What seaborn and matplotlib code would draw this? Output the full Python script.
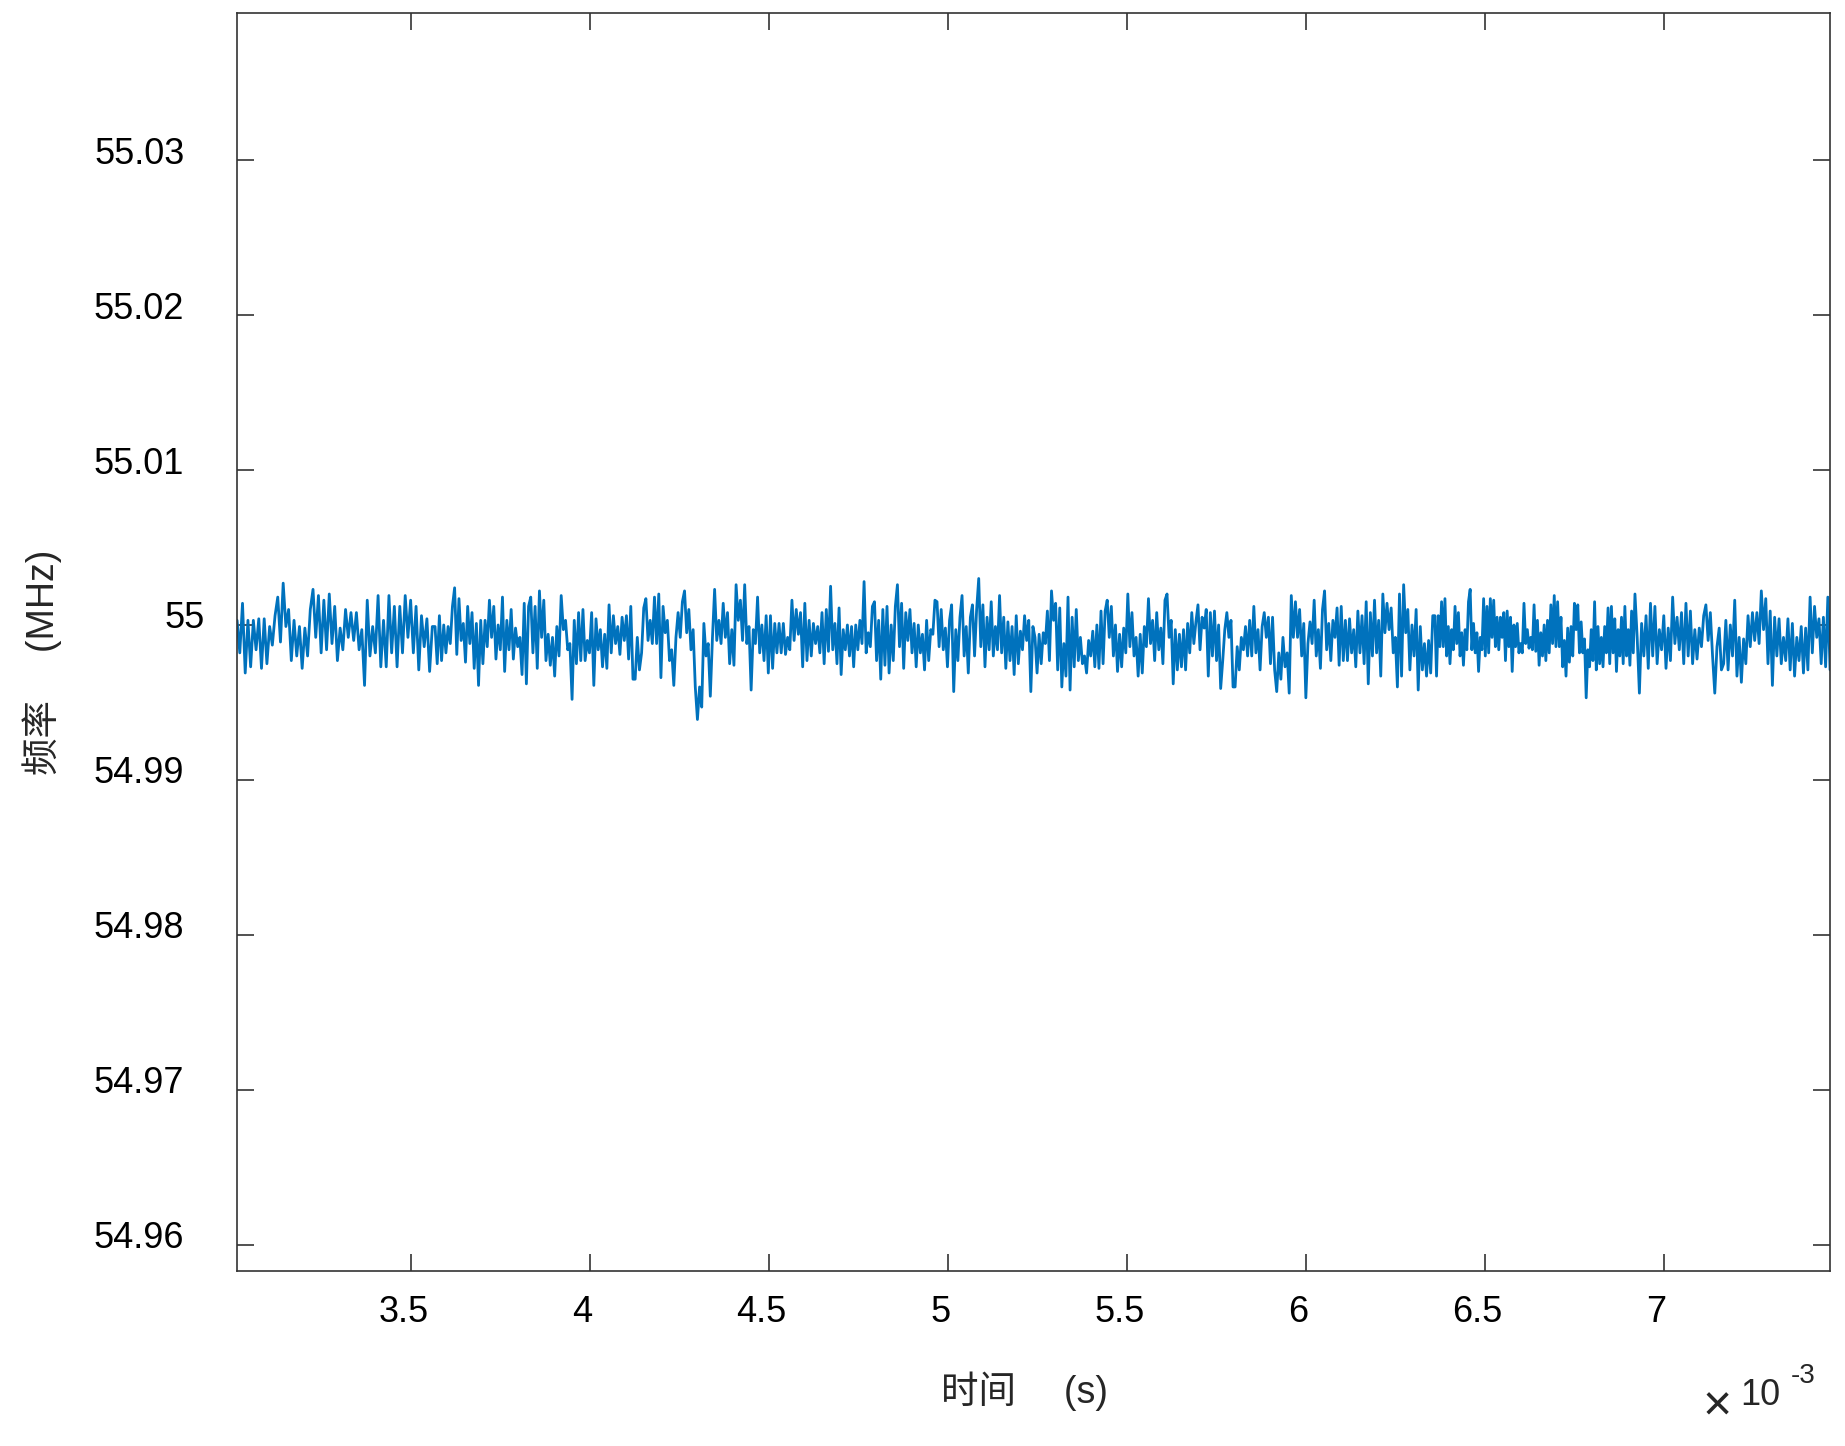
import numpy as np
import pandas as pd
import seaborn as sns
import matplotlib
matplotlib.use('Agg')
import matplotlib.pyplot as plt
from matplotlib.ticker import FixedLocator, FuncFormatter
from matplotlib.transforms import ScaledTranslation

# frequency trace, read off the picture as deviation from 55 MHz (kHz),
# one list per stretch of the time axis
seg_edges_ms = [3.013, 3.566, 4.125, 4.683, 5.242, 5.801, 6.359, 6.918, 7.463]

seg1 = [0.3, -1.8, 1.4, -3.1, 0.3, -2.7, 0.3, -1.6, 0.4, -2.8, 0.4, -2.5, -0.1, -1.3, 0.6, 1.8,
        -1.1, 2.7, -0.1, 1.0, -2.3, 0.3, -2.0, -0.1, -2.8, -0.2, -2.0, 1.0, 2.3, -0.8, 1.9, -1.8,
        1.6, -1.6, 2.0, -1.2, 1.2, -2.3, -0.2, -1.6, 1.0, -0.8, 0.8, -1.0, 0.8, -1.6, -0.3, -3.9,
        1.6, -2.0, -0.1, -1.8, 1.9, -2.7, 0.3, -2.7, 1.9, -1.8, 1.2, -2.7, 1.2, -1.8, 1.9, -0.8,
        1.6, -1.8, 1.2, -2.9, 0.6, -1.4, 0.4, -3.0, -0.1]
seg2 = [-0.1, -2.5, 0.6, -2.3, 0.0, -1.8, -0.1, -1.2, 1.2, 2.4, -1.9, 1.7, -1.0, 0.1, -2.4, 1.2,
        -1.2, 0.8, -2.8, 0.1, -3.9, 0.3, -2.5, 0.3, -1.4, 1.6, -0.8, 1.2, -2.2, 0.0, -1.6, 1.8,
        -3.0, 0.3, -1.6, 1.0, -2.2, -0.2, -1.4, -0.8, -3.2, 1.4, -3.8, 1.2, 1.8, -1.8, 1.2, -2.8,
        2.2, -0.8, 1.6, -2.3, -0.6, -2.6, -0.8, -3.3, -0.1, -2.0, 1.9, -0.3, 0.3, -1.6, -1.2, -4.8,
        0.3, -2.5, 0.8, -2.3, 1.0, -2.3, -1.0, -1.8, 0.8, -3.9, 0.4, -1.6, -0.3, -2.7, -0.6, -2.8,
        1.3, -1.8, 0.6, -1.2, -0.1, -1.9, 0.5, -1.0, 0.6, -2.2, 1.2, -3.5]
seg3 = [-3.5, -0.8, -2.9, -1.8, 1.1, 1.7, -1.0, 0.3, -1.2, 1.8, -1.2, 2.0, -3.4, 1.2, -0.5, 0.3,
        -2.3, -1.6, -3.9, -0.8, 0.8, -0.8, 1.5, 2.2, -0.5, 1.0, -1.6, -0.3, -4.0, -6.1, -4.0, -5.3,
        0.1, -2.0, -1.2, -4.6, -0.8, 2.3, -1.0, 0.3, -1.2, 1.4, -0.8, 0.8, -2.5, -0.3, -2.6, 2.6,
        0.3, 1.6, -1.0, 2.6, -1.2, -0.1, -4.2, -0.3, -1.2, 1.8, -1.8, 0.0, -2.3, 0.6, -3.1, 0.6,
        -2.8, 0.1, -1.8, 0.1, -1.8, 0.1, -1.9, -0.8, -1.6, 1.6, -1.0, 1.0, -0.6, 0.8, -2.7, 1.4,
        -2.3, 0.3, -2.0, 0.1, -1.2, -0.1, -1.8, 0.8, -2.5, 1.0, -1.7, 2.5, -1.6]
seg4 = [0.1, -2.5, 1.1, -3.2, -0.3, -1.6, 0.0, -2.0, -0.1, -2.7, 0.0, -1.6, 0.3, -1.2, 2.8, -1.8,
        -0.5, -1.4, 1.2, 1.5, -2.3, 0.3, -3.5, 1.0, -2.6, 1.2, -3.1, 0.0, -2.3, 1.2, 2.6, -1.4,
        1.4, -2.8, 0.8, -1.0, 1.0, -1.8, 0.1, -2.7, 0.0, -1.8, -0.6, -2.9, 0.3, -2.3, -0.3, -0.6,
        1.6, 1.5, -1.4, 1.0, -1.6, -0.2, -2.7, 0.3, 1.3, -4.3, -0.3, -2.3, 0.5, 1.9, -2.0, -0.1,
        -3.1, 0.5, 1.3, -2.0, 1.0, 3.0, -1.4, 1.3, -2.7, 0.5, -1.6, 1.5, -2.0, -0.1, -1.6, 1.9,
        -1.8, 0.5, -2.8, 0.2, -2.3, -0.1, -3.2, 0.6, -2.5, -0.4, -1.6, 0.6, -1.0, 0.3, -4.3, -0.1]
seg5 = [-0.8, -3.1, -0.6, -2.5, -0.5, -1.2, 0.9, -2.3, 2.2, 0.3, 1.4, -2.9, 1.1, -4.0, -1.2, -3.3,
        1.8, -4.2, 0.5, -2.7, 1.0, -2.3, -0.8, -2.5, -2.0, -3.1, -1.0, -2.0, -0.4, -2.7, 0.0, -2.8,
        0.9, -2.5, 0.9, 1.6, -0.8, 1.2, -2.0, 0.0, -3.0, -0.6, -2.7, -0.2, -1.8, 2.0, -1.4, 0.8,
        -2.0, -0.8, -3.3, -0.6, -3.1, -0.1, -1.4, 1.7, -1.2, 0.3, -2.3, 0.8, -1.6, -0.2, -2.5, 1.6,
        2.0, -0.8, 0.3, -3.8, -0.3, -2.9, -0.6, -2.7, -0.3, -2.9, 0.1, -1.8, 0.8, -1.2, 0.2, 1.3,
        -1.6, 0.5, -0.2, 1.0, -3.3, 0.8, -2.0, 0.9, -2.3, 0.0, -4.1, -2.3, -0.3, 0.8, -0.8, 0.3, -4.0]
seg6 = [-4.0, -1.4, -2.9, -0.8, -1.6, -0.1, -2.0, 0.3, -2.0, 1.2, -1.8, -0.3, -2.9, -0.1, 0.8, -0.8,
        0.5, -2.5, 0.5, -2.9, -4.3, -1.8, -3.5, -0.8, -2.7, -1.8, -4.4, 1.9, -0.8, 1.5, -0.8, 1.0,
        -2.0, 0.1, -4.7, -1.2, 0.2, -1.2, 1.6, -2.0, -0.3, -2.8, 1.0, 2.2, -1.6, 0.1, -2.3, 0.3,
        -0.8, 1.1, -2.6, 1.2, -2.3, 0.3, -2.3, 0.4, -1.8, -0.3, -2.7, 0.9, -1.8, 0.6, -2.5, 1.5,
        -3.8, 0.8, -2.0, 1.6, -1.8, 0.3, -3.3, 2.0, -0.5, 1.4, -0.3, 1.1, -1.8, -0.8, -4.0, 2.0,
        -3.3, 2.6, -0.5, 1.0, -2.9, 0.0, -2.0, 1.0, -4.2, -0.1, -2.9, -1.2, -3.3, -1.0, -3.1, 0.6]
seg7 = [0.6, -3.3, 0.6, -1.4, 1.5, -1.4, 1.7, -2.0, -0.1, -2.5, -0.3, -1.6, 1.2, -1.2, 0.8, -2.0,
        -0.5, -2.6, -0.3, -1.6, 1.5, 2.3, -1.6, 0.1, -1.8, -0.5, -3.0, -0.8, -1.6, 1.7, -2.0, 1.2,
        -1.8, 1.7, -0.8, 1.6, -1.4, 0.5, -1.6, 0.5, -0.8, 0.8, -2.3, 0.9, -1.4, 0.5, -3.0, 0.0,
        -1.4, 0.1, -1.8, -1.2, -1.8, 1.4, -1.2, -0.3, -1.5, -0.8, -1.6, 1.3, -1.7, 0.3, -2.6, -0.5,
        -2.0, 0.0, -2.3, 0.3, -1.8, 1.3, -1.2, 1.9, -1.4, 1.5, -1.4, 0.5, -2.7, -1.0, -3.3, -0.2,
        -2.4, -0.1, -2.0, 1.4, -0.3, 1.3, -1.8, 0.2, -1.8, -0.9, -4.7, -1.6, -2.7, -0.3, -2.3, 1.5,
        -2.9, -0.1, -2.5, -0.8, -2.7, -0.1, -1.8, 1.1, -2.5, 1.2, -1.8, 0.4, -3.0, -0.3, -2.0, 0.5,
        -2.5, 1.2, -2.0, -0.3, -2.6, 0.9, -1.8]
seg8 = [2.0, -0.8, -4.4, 0.1, -2.0, 0.6, -2.8, 1.4, -2.0, 1.2, -2.5, -0.3, -1.6, 0.6, -2.8, -0.2,
        -2.3, 1.8, -1.2, 0.5, -1.6, 0.8, -2.5, 1.4, -2.0, 0.9, -2.5, -0.3, -2.2, -0.2, -1.4, 0.6,
        1.3, -1.0, 0.8, -2.0, -4.4, -1.4, -0.2, -2.9, -2.5, 0.3, -2.9, 0.0, -2.0, 1.6, -3.3, -0.8,
        -3.7, -0.9, -2.5, 0.6, -1.4, 0.8, -1.0, 0.8, -1.2, 2.2, -0.3, 1.7, -2.5, 0.9, -3.9, 0.5,
        -2.0, 0.4, -2.5, -0.8, -2.3, 0.4, -2.9, 0.1, -3.3, -0.8, -2.3, -0.1, -3.1, -0.2, -2.9, 1.8,
        -1.8, 1.2, -0.8, 0.4, -2.5, 0.5, -2.7, 1.8, -2.9]

segments = [seg1, seg2, seg3, seg4, seg5, seg6, seg7, seg8]

ytick_vals = [54.96, 54.97, 54.98, 54.99, 55.0, 55.01, 55.02, 55.03]
xtick_vals_ms = [3.5, 4.0, 4.5, 5.0, 5.5, 6.0, 6.5, 7.0]

# build the sample table (time in s, frequency in MHz)
t_parts, f_parts = [], []
for i, seg in enumerate(segments):
    last = i == len(segments) - 1
    t = np.linspace(seg_edges_ms[i], seg_edges_ms[i + 1], len(seg), endpoint=last)
    t_parts.append(t * 1e-3)
    f_parts.append(55.0 + np.array(seg) * 1e-3)
df = pd.DataFrame({'t': np.concatenate(t_parts), 'f': np.concatenate(f_parts)})

sns.set_style('white')
plt.rcParams['font.family'] = ['Liberation Sans', 'Noto Sans CJK SC']
plt.rcParams['axes.unicode_minus'] = False

fig = plt.figure(figsize=(18.45, 14.46), dpi=100)
ax = fig.add_axes([0.1285, 0.1210, 0.8634, 0.870])

sns.lineplot(data=df, x='t', y='f', ax=ax, color='#0072BD', linewidth=2.0,
             sort=False, estimator=None)

ax.set_xlim(seg_edges_ms[0] * 1e-3, seg_edges_ms[-1] * 1e-3)
ax.set_ylim(54.9583, 55.0395)

ax.xaxis.set_major_locator(FixedLocator([v * 1e-3 for v in xtick_vals_ms]))
ax.xaxis.set_major_formatter(FuncFormatter(lambda v, p: f'{v * 1e3:g}'))
ax.yaxis.set_major_locator(FixedLocator(ytick_vals))
ax.yaxis.set_major_formatter(FuncFormatter(lambda v, p: f'{v:g}'))

ax.tick_params(axis='both', direction='in', top=True, right=True, bottom=True, left=True,
               length=12, width=1.2, color='#333333', labelsize=26, labelcolor='black')
ax.tick_params(axis='y', pad=38)
ax.tick_params(axis='x', pad=17)

for s in ax.spines.values():
    s.set_color('#333333')
    s.set_linewidth(1.2)

ax.set_xlabel('时间\u3000 (s)', fontsize=27)
ax.set_ylabel('频率\u3000 (MHz)', fontsize=27)
ax.xaxis.set_label_coords(0.494, -0.080)
ax.yaxis.set_label_coords(-0.110, 0.484)

# MATLAB-like label quirks: y labels sit a bit high, "55" sits to the right,
# x labels sit slightly left of their ticks
fig.canvas.draw()
for tick, val in zip(ax.yaxis.get_major_ticks(), ytick_vals):
    dx = 0.2 if abs(val - 55.0) < 1e-9 else 0.0
    lab = tick.label1
    lab.set_transform(lab.get_transform() + ScaledTranslation(dx, 0.1, fig.dpi_scale_trans))
for tick in ax.xaxis.get_major_ticks():
    lab = tick.label1
    lab.set_transform(lab.get_transform() + ScaledTranslation(-0.08, 0, fig.dpi_scale_trans))

# exponent marker
fig.text(1717 / 1845, 1 - 1408 / 1446, '×', fontsize=36, ha='center', va='center')
fig.text(1740 / 1845, 1 - 1405 / 1446, '10', fontsize=26, ha='left', va='baseline')
fig.text(1791 / 1845, 1 - 1383 / 1446, '-3', fontsize=20, ha='left', va='baseline')

fig.savefig('out.png', dpi=100)
